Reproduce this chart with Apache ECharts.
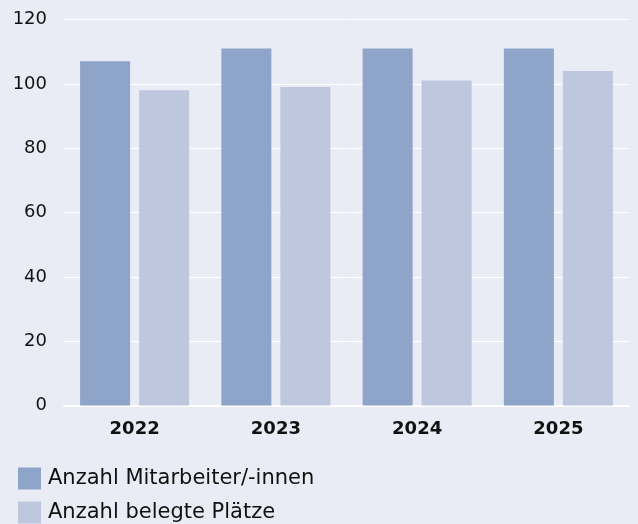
<!DOCTYPE html>
<html>
<head>
<meta charset="utf-8">
<script src="https://cdn.jsdelivr.net/npm/echarts@6/dist/echarts.min.js"></script>
<style>
  html, body { margin: 0; padding: 0; background: #e9ecf5; }
  #main { width: 638px; height: 524px; }
</style>
</head>
<body>
<div id="main"></div>
<script>
// data
const years = ['2022', '2023', '2024', '2025'];
const mitarbeiter = [107, 111, 111, 111];
const belegtePlaetze = [98, 99, 101, 104];
const seriesNames = ['Anzahl Mitarbeiter/-innen', 'Anzahl belegte Plätze'];

const FONT = '"DejaVu Sans", "Noto Sans", sans-serif';

var myChart = echarts.init(document.getElementById('main'));

myChart.setOption({
  backgroundColor: '#e9ecf5',
  animation: false,
  grid: {left: 64, right: 9, top: 19.5, bottom: 118.5},
  legend: {
    orient: 'vertical',
    left: 18,
    top: 467.5,
    padding: 0,
    itemWidth: 23,
    itemHeight: 22,
    itemGap: 12,
    icon: 'rect',
    textStyle: {fontFamily: FONT, fontSize: 21, lineHeight: 22, color: '#111', padding: [0, 0, 0, 2]},
    data: seriesNames
  },
  xAxis: {
    type: 'category',
    data: years,
    axisLine: {lineStyle: {color: '#ffffff', width: 2}},
    axisTick: {show: false},
    axisLabel: {fontFamily: FONT, fontSize: 18, fontWeight: 'bold', color: '#111', margin: 15}
  },
  yAxis: {
    type: 'value',
    min: 0,
    max: 120,
    interval: 20,
    axisLine: {show: false},
    axisTick: {show: false},
    splitLine: {lineStyle: {color: '#ffffff', width: 1}},
    axisLabel: {fontFamily: FONT, fontSize: 18, color: '#111', margin: 17, padding: [3, 0, 0, 0]}
  },
  series: [
    {
      name: seriesNames[0],
      type: 'bar',
      data: mitarbeiter,
      barGap: '18%',
      barCategoryGap: '22.8%',
      itemStyle: {color: '#8fa4c9'}
    },
    {
      name: seriesNames[1],
      type: 'bar',
      data: belegtePlaetze,
      itemStyle: {color: '#bdc8df'}
    }
  ]
});
</script>
</body>
</html>
